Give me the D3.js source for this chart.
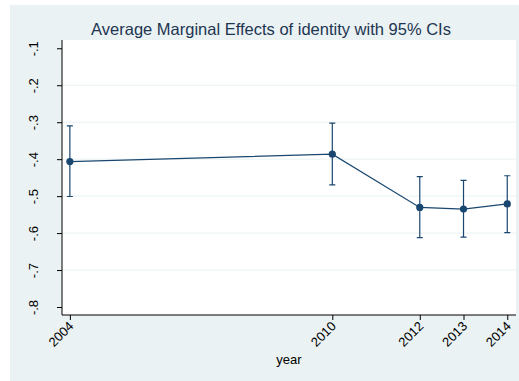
<!DOCTYPE html>
<html>
<head>
<meta charset="utf-8">
<script src="https://cdn.jsdelivr.net/npm/d3@7/dist/d3.min.js"></script>
<style>
  body { margin: 0; background: #fff; }
  svg { display: block; font-family: "Liberation Sans", Arial, sans-serif; }
</style>
</head>
<body>
<svg id="chart" width="519" height="381"></svg>
<script>
// marginal effects per survey year
const years = [2004, 2010, 2012, 2013, 2014];
const effects = [-0.4065, -0.3865, -0.5306, -0.5351, -0.521];
const ciLow = [-0.501, -0.4695, -0.612, -0.611, -0.5986];
const ciHigh = [-0.310, -0.3027, -0.4475, -0.4575, -0.4448];
const yTicks = [-0.1, -0.2, -0.3, -0.4, -0.5, -0.6, -0.7, -0.8];
const yTickLabels = ['-.1', '-.2', '-.3', '-.4', '-.5', '-.6', '-.7', '-.8'];

const NAVY = '#1a476f';
const BG = '#eaf2f3';

const svg = d3.select('#chart');
const plot = { left: 62, top: 40, right: 516, bottom: 315 };

svg.append('rect').attr('x', 10).attr('y', 5).attr('width', 509).attr('height', 376).attr('fill', BG);
svg.append('rect').attr('x', plot.left).attr('y', plot.top)
  .attr('width', plot.right - plot.left).attr('height', plot.bottom - plot.top).attr('fill', '#fff');

const x = d3.scaleLinear().domain([2003.82, 2014.2]).range([plot.left, plot.right]);
const y = d3.scaleLinear().domain([-0.8216, -0.0776]).range([plot.bottom, plot.top]);

// gridlines on interior ticks
svg.append('g').selectAll('line').data(yTicks.slice(1, -1)).join('line')
  .attr('x1', plot.left).attr('x2', plot.right)
  .attr('y1', (d) => y(d)).attr('y2', (d) => y(d))
  .attr('stroke', BG).attr('stroke-width', 1);

// y axis
const yAxis = svg.append('g').attr('transform', `translate(${plot.left},0)`)
  .call(d3.axisLeft(y).tickValues(yTicks).tickSize(5).tickFormat((d, i) => yTickLabels[i]));
yAxis.select('.domain').attr('d', `M0,${plot.top}V${plot.bottom}`).attr('stroke', '#000');
yAxis.selectAll('.tick line').attr('stroke', '#000');
yAxis.selectAll('.tick text')
  .attr('font-size', 13).attr('fill', '#000')
  .attr('transform', 'rotate(-90)')
  .attr('text-anchor', 'middle')
  .attr('x', 0).attr('y', -29).attr('dy', '0.35em');

// x axis
const xAxis = svg.append('g').attr('transform', `translate(0,${plot.bottom})`)
  .call(d3.axisBottom(x).tickValues(years).tickSize(5).tickFormat(d3.format('d')));
xAxis.select('.domain').attr('d', `M${plot.left},0H${plot.right}`).attr('stroke', '#000');
xAxis.selectAll('.tick line').attr('stroke', '#000');
xAxis.selectAll('.tick text')
  .attr('font-size', 13).attr('fill', '#000')
  .attr('text-anchor', 'end')
  .attr('x', 0).attr('y', 0).attr('dy', 0)
  .attr('transform', 'translate(4,12) rotate(-45)');

svg.append('text').attr('x', (plot.left + plot.right) / 2).attr('y', 364)
  .attr('text-anchor', 'middle').attr('font-size', 13).attr('fill', '#000').text('year');

svg.append('text').attr('x', 271).attr('y', 35)
  .attr('text-anchor', 'middle').attr('font-size', 16.5).attr('fill', '#1e3552')
  .text('Average Marginal Effects of identity with 95% CIs');

const pts = years.map((yr, i) => ({ yr, v: effects[i], lo: ciLow[i], hi: ciHigh[i] }));

// error bars
const eb = svg.append('g').attr('stroke', NAVY).attr('stroke-width', 1.2).attr('fill', 'none');
eb.selectAll('path').data(pts).join('path')
  .attr('d', (d) => {
    const cx = x(d.yr), y0 = y(d.lo), y1 = y(d.hi);
    return `M${cx - 3},${y1}H${cx + 3}M${cx},${y1}V${y0}M${cx - 3},${y0}H${cx + 3}`;
  });

svg.append('path').datum(pts)
  .attr('d', d3.line().x((d) => x(d.yr)).y((d) => y(d.v)))
  .attr('fill', 'none').attr('stroke', NAVY).attr('stroke-width', 1.2);

svg.append('g').selectAll('circle').data(pts).join('circle')
  .attr('cx', (d) => x(d.yr)).attr('cy', (d) => y(d.v)).attr('r', 3.6).attr('fill', NAVY);
</script>
</body>
</html>
